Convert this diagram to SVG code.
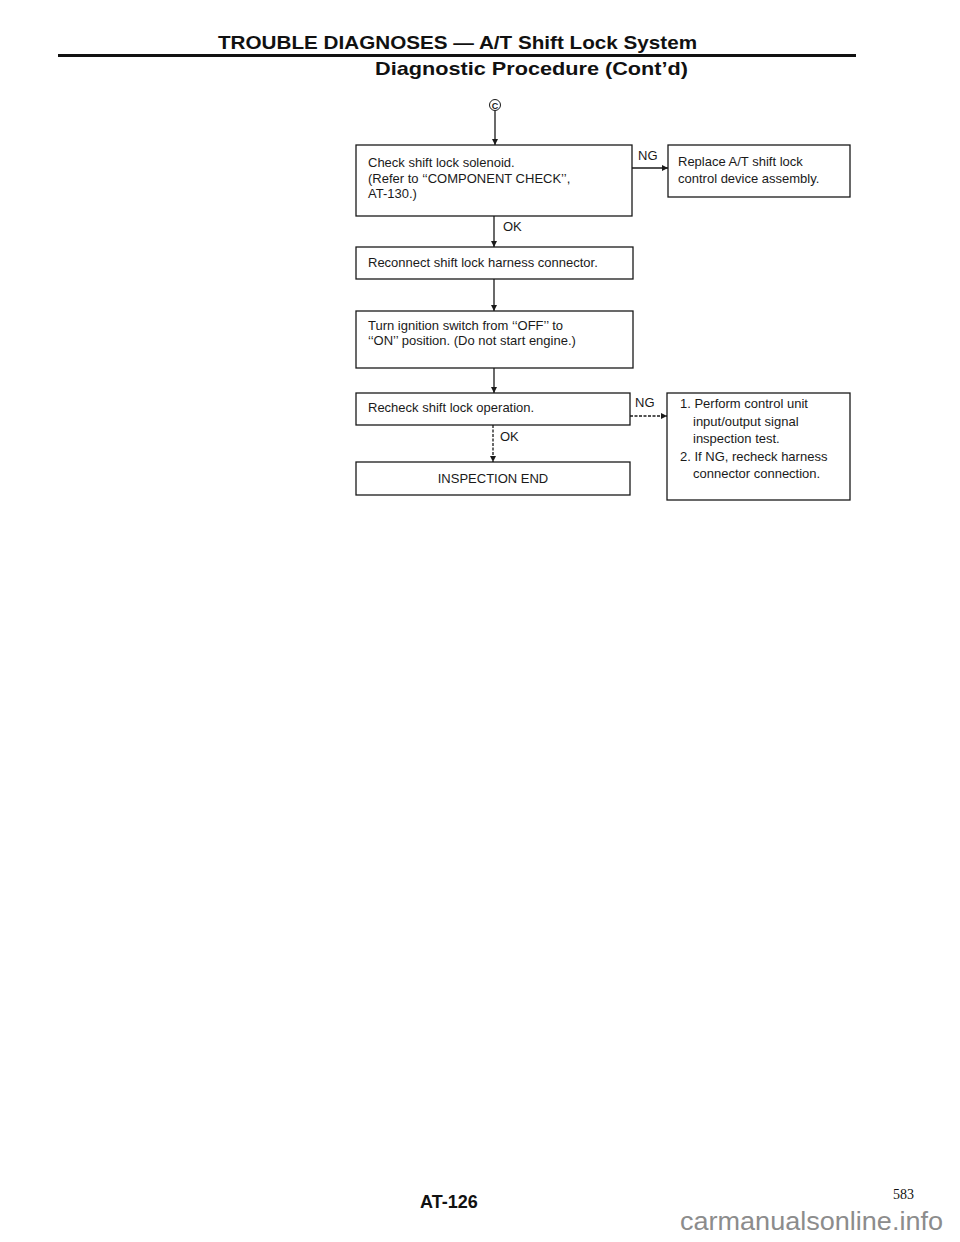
<svg xmlns="http://www.w3.org/2000/svg" width="960" height="1242" viewBox="0 0 960 1242">
<style>
  .bg{fill:#ffffff}
  .box{fill:#ffffff;stroke:#1a1a1a;stroke-width:1.3}
  .t{font-family:"Liberation Sans",Arial,sans-serif;font-size:13px;fill:#1a1a1a}
  .lbl{font-family:"Liberation Sans",Arial,sans-serif;font-size:13px;fill:#1a1a1a}
  .hd{font-family:"Liberation Sans",Arial,sans-serif;font-weight:bold;font-size:19px;fill:#111}
  .conn{fill:none;stroke:#1a1a1a;stroke-width:1.3}
  .dash{stroke-dasharray:3 1.5}
</style>
<defs>
  <marker id="arr" viewBox="0 0 10 10" refX="10" refY="5" markerWidth="6" markerHeight="6" markerUnits="userSpaceOnUse" orient="auto">
    <path d="M0,0 L10,5 L0,10 Z" fill="#1a1a1a"/>
  </marker>
</defs>
<rect class="bg" x="0" y="0" width="960" height="1242"/>

<g id="header">
  <text class="hd" x="218" y="49" textLength="479" lengthAdjust="spacingAndGlyphs">TROUBLE DIAGNOSES — A/T Shift Lock System</text>
  <line x1="58" y1="55.5" x2="856" y2="55.5" stroke="#111" stroke-width="3"/>
  <text class="hd" x="375" y="75" textLength="313" lengthAdjust="spacingAndGlyphs">Diagnostic Procedure (Cont’d)</text>
</g>

<g id="connectors">
  <line class="conn" x1="495" y1="111" x2="495" y2="145" marker-end="url(#arr)"/>
  <line class="conn" x1="632" y1="168" x2="668" y2="168" marker-end="url(#arr)"/>
  <text class="lbl" x="638" y="160">NG</text>
  <line class="conn" x1="494" y1="216" x2="494" y2="247" marker-end="url(#arr)"/>
  <text class="lbl" x="503" y="231">OK</text>
  <line class="conn" x1="494" y1="279" x2="494" y2="311" marker-end="url(#arr)"/>
  <line class="conn" x1="494" y1="368" x2="494" y2="393" marker-end="url(#arr)"/>
  <line class="conn dash" x1="630" y1="416" x2="667" y2="416" marker-end="url(#arr)"/>
  <text class="lbl" x="635" y="407">NG</text>
  <line class="conn dash" x1="493" y1="425" x2="493" y2="462" marker-end="url(#arr)"/>
  <text class="lbl" x="500" y="441">OK</text>
</g>

<g id="start-C">
  <circle cx="495" cy="105" r="5.5" fill="none" stroke="#1a1a1a" stroke-width="1"/>
  <text x="495" y="108.5" text-anchor="middle" font-family="Liberation Sans, Arial, sans-serif" font-weight="bold" font-size="9" fill="#1a1a1a">C</text>
</g>

<g id="node-check-solenoid">
  <rect class="box" x="356" y="145" width="276" height="71"/>
  <text class="t" x="368" y="167">Check shift lock solenoid.</text>
  <text class="t" x="368" y="182.5">(Refer to ‘‘COMPONENT CHECK’’,</text>
  <text class="t" x="368" y="198">AT-130.)</text>
</g>

<g id="node-replace">
  <rect class="box" x="668" y="145" width="182" height="52"/>
  <text class="t" x="678" y="166">Replace A/T shift lock</text>
  <text class="t" x="678" y="183">control device assembly.</text>
</g>

<g id="node-reconnect">
  <rect class="box" x="356" y="247" width="277" height="32"/>
  <text class="t" x="368" y="267">Reconnect shift lock harness connector.</text>
</g>

<g id="node-ignition">
  <rect class="box" x="356" y="311" width="277" height="57"/>
  <text class="t" x="368" y="330">Turn ignition switch from ‘‘OFF’’ to</text>
  <text class="t" x="368" y="345">‘‘ON’’ position. (Do not start engine.)</text>
</g>

<g id="node-recheck">
  <rect class="box" x="356" y="393" width="274" height="32"/>
  <text class="t" x="368" y="412">Recheck shift lock operation.</text>
</g>

<g id="node-end">
  <rect class="box" x="356" y="462" width="274" height="33"/>
  <text class="t" x="493" y="483" text-anchor="middle">INSPECTION END</text>
</g>

<g id="node-perform">
  <rect class="box" x="667" y="393" width="183" height="107"/>
  <text class="t" x="680" y="408">1. Perform control unit</text>
  <text class="t" x="693" y="426">input/output signal</text>
  <text class="t" x="693" y="443">inspection test.</text>
  <text class="t" x="680" y="461">2. If NG, recheck harness</text>
  <text class="t" x="693" y="478">connector connection.</text>
</g>

<g id="footer">
  <text x="420" y="1208" font-family="Liberation Sans, Arial, sans-serif" font-weight="bold" font-size="18" fill="#111">AT-126</text>
  <text x="893" y="1199" font-family="Liberation Serif, Times New Roman, serif" font-size="14" fill="#111">583</text>
  <text x="680" y="1230" font-family="Liberation Sans, Arial, sans-serif" font-size="26" fill="#8c8c8c" textLength="263" lengthAdjust="spacingAndGlyphs">carmanualsonline.info</text>
</g>
</svg>
